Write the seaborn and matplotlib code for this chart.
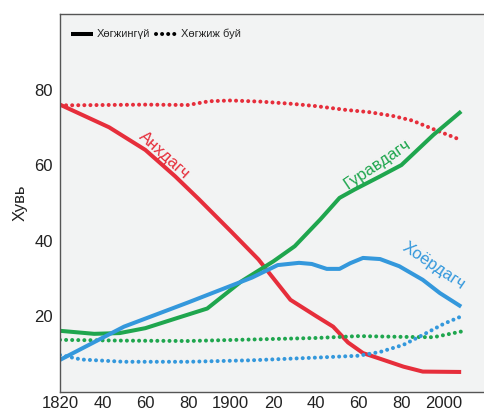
import matplotlib
matplotlib.use("Agg")
import matplotlib.pyplot as plt
from matplotlib.lines import Line2D
import pandas as pd
import seaborn as sns

# Анхдагч (primary)
PRIM_DEV_YEARS = [1820, 1843, 1860, 1874, 1885, 1900, 1913, 1920, 1928, 1940, 1948, 1955, 1962, 1970, 1981, 1990, 2008]
PRIM_DEV_VALS = [76, 70, 64, 57, 51, 42.5, 35, 30, 24.3, 20, 17.2, 13, 10.2, 8.7, 6.6, 5.3, 5.2]
PRIM_EMG_YEARS = [1820, 1840, 1860, 1880, 1890, 1900, 1914, 1929, 1940, 1954, 1965, 1976, 1985, 1995, 2008]
PRIM_EMG_VALS = [75.8, 75.9, 76, 75.9, 76.9, 77.1, 76.8, 76.2, 75.6, 74.6, 74, 73, 71.8, 69.5, 66.6]

# Гуравдагч (tertiary)
TER_DEV_YEARS = [1820, 1836, 1848, 1860, 1875, 1889, 1905, 1920, 1930, 1942, 1951, 1958, 1970, 1980, 1995, 2008]
TER_DEV_VALS = [16.1, 15.3, 15.5, 16.8, 19.5, 22, 29.2, 34.5, 38.5, 45.6, 51.3, 53.5, 57, 60, 68, 74.2]
TER_EMG_YEARS = [1820, 1850, 1880, 1910, 1940, 1960, 1980, 1995, 2008]
TER_EMG_VALS = [13.7, 13.5, 13.4, 13.8, 14.2, 14.7, 14.5, 14.4, 15.9]

# Хоёрдагч (secondary)
SEC_DEV_YEARS = [1820, 1850, 1880, 1910, 1922, 1932, 1938, 1945, 1951, 1956, 1962, 1970, 1979, 1990, 1998, 2008]
SEC_DEV_VALS = [8.4, 17.2, 23.6, 30.2, 33.5, 34.1, 33.8, 32.5, 32.5, 34, 35.4, 35.1, 33.2, 29.6, 26.1, 22.5]
SEC_EMG_YEARS = [1820, 1830, 1850, 1880, 1910, 1940, 1960, 1970, 1981, 1990, 2000, 2008]
SEC_EMG_VALS = [9.7, 8.5, 7.9, 7.9, 8.3, 9.0, 9.5, 10.5, 12.4, 15, 18, 19.9]

X_TICKS = [1820, 1840, 1860, 1880, 1900, 1920, 1940, 1960, 1980, 2000]
X_TICK_LABELS = ["1820", "40", "60", "80", "1900", "20", "40", "60", "80", "2000"]
Y_TICKS = [20, 40, 60, 80]

RED = "#e62e3b"
GREEN = "#1fa64e"
BLUE = "#3498dc"

series = [
    ("Анхдагч", "Хөгжингүй", PRIM_DEV_YEARS, PRIM_DEV_VALS),
    ("Анхдагч", "Хөгжиж буй", PRIM_EMG_YEARS, PRIM_EMG_VALS),
    ("Гуравдагч", "Хөгжингүй", TER_DEV_YEARS, TER_DEV_VALS),
    ("Гуравдагч", "Хөгжиж буй", TER_EMG_YEARS, TER_EMG_VALS),
    ("Хоёрдагч", "Хөгжингүй", SEC_DEV_YEARS, SEC_DEV_VALS),
    ("Хоёрдагч", "Хөгжиж буй", SEC_EMG_YEARS, SEC_EMG_VALS),
]
frames = []
for sector, group, years, vals in series:
    frames.append(pd.DataFrame({"year": years, "value": vals, "sector": sector, "group": group}))
data = pd.concat(frames, ignore_index=True)

sns.set_style("white")
plt.rcParams["font.family"] = ["Liberation Sans", "DejaVu Sans"]
plt.rcParams["lines.dash_capstyle"] = "round"
plt.rcParams["lines.solid_capstyle"] = "butt"

fig = plt.figure(figsize=(4.84, 4.13), dpi=100)
ax = fig.add_axes([60 / 484, 21.4 / 413, 424 / 484, 377.6 / 413])
ax.set_facecolor("#f2f3f3")

palette = {"Анхдагч": RED, "Гуравдагч": GREEN, "Хоёрдагч": BLUE}
dashes = {"Хөгжингүй": "", "Хөгжиж буй": (0.01, 1.5)}
sns.lineplot(
    data=data, x="year", y="value", hue="sector", style="group",
    palette=palette, dashes=dashes, estimator=None, sort=False,
    linewidth=2.9, legend=False, ax=ax,
)

ax.set_xlim(1820, 2018.7)
ax.set_ylim(0, 100)
ax.set_xticks(X_TICKS)
ax.set_xticklabels(X_TICK_LABELS)
ax.set_yticks(Y_TICKS)
ax.tick_params(direction="in", length=6, width=1, colors="#333333", labelsize=12,
               labelcolor="#222222", pad=5)
ax.tick_params(axis="x", pad=3.5)
ax.set_xlabel("")
ax.set_ylabel("Хувь", fontsize=12, color="#222222", labelpad=5)
for side in ["left", "bottom", "top"]:
    ax.spines[side].set_color("#555555")
    ax.spines[side].set_linewidth(1)
ax.spines["right"].set_visible(False)

ax.text(1869, 62.5, "Анхдагч", color=RED, fontsize=12, rotation=-42,
        ha="center", va="center", rotation_mode="anchor")
ax.text(1969, 60.2, "Гуравдагч", color=GREEN, fontsize=12, rotation=34,
        ha="center", va="center", rotation_mode="anchor")
ax.text(1995, 33.2, "Хоёрдагч", color=BLUE, fontsize=12, rotation=-34,
        ha="center", va="center", rotation_mode="anchor")

handles = [
    Line2D([], [], color="black", linewidth=2.9),
    Line2D([], [], color="black", linewidth=2.9, linestyle=(0, (0.01, 1.5)),
           dash_capstyle="round"),
]
ax.legend(handles, ["Хөгжингүй", "Хөгжиж буй"], loc="upper left",
          bbox_to_anchor=(0.016, 0.972), borderaxespad=0, ncol=2, frameon=False,
          fontsize=8, handlelength=2.0, handletextpad=0.3, columnspacing=0.5)

fig.savefig("out.png", dpi=100)
